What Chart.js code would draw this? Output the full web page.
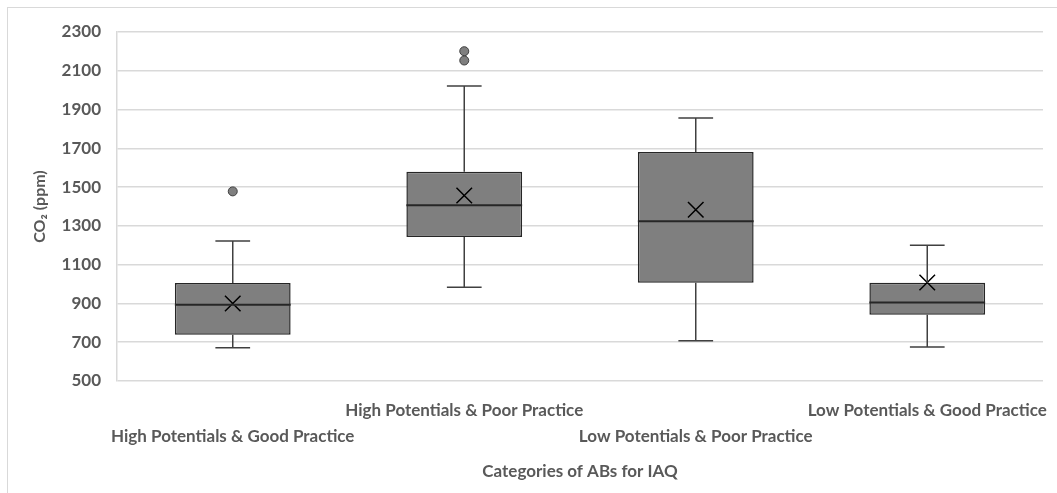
<!DOCTYPE html>
<html>
<head>
<meta charset="utf-8">
<script src="https://cdn.jsdelivr.net/npm/chart.js@4/dist/chart.umd.min.js"></script>
<style>
  html, body { margin: 0; padding: 0; background: #fff; }
  #wrap { position: relative; width: 1057px; height: 493px; }
  #frame { position: absolute; left: 7px; top: 7px; width: 1050px; height: 486px;
           border-left: 1px solid #d9d9d9; border-top: 1px solid #d9d9d9; box-sizing: border-box; }
  canvas { position: absolute; left: 0; top: 0; }
</style>
</head>
<body>
<div id="wrap">
  <div id="frame"></div>
  <canvas id="c" width="1057" height="493"></canvas>
</div>
<script>
// ---- data ----
const categories = [
  'High Potentials & Good Practice',
  'High Potentials & Poor Practice',
  'Low Potentials & Poor Practice',
  'Low Potentials & Good Practice'
];
const minValues    = [671, 983, 707, 676];
const q1Values     = [738, 1243, 1007, 842];
const medianValues = [893, 1407, 1324, 905];
const q3Values     = [1005, 1579, 1681, 1007];
const maxValues    = [1222, 2021, 1857, 1200];
const meanValues   = [900, 1457, 1383, 1008];
const outlierCats  = [0, 1, 1];
const outlierVals  = [1478, 2201, 2153];
const yTicks = [500, 700, 900, 1100, 1300, 1500, 1700, 1900, 2100, 2300];

const textColor = '#595959';
const font = 'Lato, "Open Sans", sans-serif';

const boxData = categories.map((c, i) => [q1Values[i], q3Values[i]]);
const outlierData = outlierCats.map((ci, k) => ({ x: categories[ci], y: outlierVals[k] }));

const whiskerPlugin = {
  id: 'whiskers',
  afterDatasetsDraw(chart) {
    const ctx = chart.ctx;
    const xs = chart.scales.x, ys = chart.scales.y;
    const barMeta = chart.getDatasetMeta(0);
    ctx.save();
    categories.forEach((c, i) => {
      const bar = barMeta.data[i];
      const x = xs.getPixelForValue(i);
      const half = bar.width / 2;
      const cap = bar.width * 0.15;
      const yMin = ys.getPixelForValue(minValues[i]);
      const yMax = ys.getPixelForValue(maxValues[i]);
      const yQ1 = ys.getPixelForValue(q1Values[i]);
      const yQ3 = ys.getPixelForValue(q3Values[i]);
      const yMed = ys.getPixelForValue(medianValues[i]);
      ctx.strokeStyle = '#404040';
      ctx.lineWidth = 1.5;
      ctx.beginPath();
      ctx.moveTo(x, yQ3); ctx.lineTo(x, yMax);
      ctx.moveTo(x - cap, yMax); ctx.lineTo(x + cap, yMax);
      ctx.moveTo(x, yQ1); ctx.lineTo(x, yMin);
      ctx.moveTo(x - cap, yMin); ctx.lineTo(x + cap, yMin);
      ctx.stroke();
      ctx.strokeStyle = '#262626';
      ctx.lineWidth = 2;
      ctx.beginPath();
      ctx.moveTo(x - half, yMed); ctx.lineTo(x + half, yMed);
      ctx.stroke();
    });
    ctx.restore();
  }
};

new Chart(document.getElementById('c'), {
  data: {
    labels: categories,
    datasets: [
      {
        type: 'bar',
        data: boxData,
        backgroundColor: '#7f7f7f',
        borderColor: '#262626',
        borderWidth: 1.5,
        borderSkipped: false,
        categoryPercentage: 1,
        barPercentage: 0.5,
        order: 3
      },
      {
        type: 'line',
        data: meanValues,
        showLine: false,
        pointStyle: 'crossRot',
        pointRadius: 11,
        pointBorderColor: '#000',
        pointBorderWidth: 1.5,
        order: 1
      },
      {
        type: 'line',
        data: outlierData,
        showLine: false,
        pointStyle: 'circle',
        pointRadius: 4.5,
        pointBackgroundColor: '#7f7f7f',
        pointBorderColor: '#404040',
        pointBorderWidth: 1,
        order: 2
      }
    ]
  },
  options: {
    responsive: false,
    animation: false,
    events: [],
    layout: { padding: { left: 30, right: 14, top: 32, bottom: 0 } },
    plugins: { legend: { display: false }, tooltip: { enabled: false } },
    scales: {
      x: {
        offset: true,
        afterFit: (s) => { s.height = 112; s.paddingLeft = 0; s.paddingRight = 0; },
        grid: { display: false, drawTicks: false },
        border: { display: false },
        ticks: {
          color: textColor,
          font: { family: font, size: 17, weight: 'bold', lineHeight: 1.55 },
          padding: 16,
          maxRotation: 0,
          autoSkip: false,
          callback: (v, i) => (i % 2 === 0 ? ['', categories[i]] : [categories[i]])
        },
        title: {
          display: true,
          text: 'Categories of ABs for IAQ',
          color: textColor,
          font: { family: font, size: 17, weight: 'bold' },
          padding: { top: 0, bottom: 11 }
        }
      },
      y: {
        min: 500,
        max: 2300,
        afterBuildTicks: (s) => { s.ticks = yTicks.map(v => ({ value: v })); },
        afterFit: (s) => { s.width = 87; },
        grid: { color: '#d9d9d9', lineWidth: 1.5, drawTicks: false },
        border: { display: true, color: '#d9d9d9', width: 1.5 },
        ticks: {
          color: textColor,
          font: { family: font, size: 17, weight: 'bold' },
          padding: 16,
          callback: (v) => String(v)
        },
        title: {
          display: true,
          text: 'CO₂ (ppm)',
          color: textColor,
          font: { family: font, size: 16, weight: 'bold' },
          padding: 0
        }
      }
    }
  },
  plugins: [whiskerPlugin]
});
</script>
</body>
</html>
